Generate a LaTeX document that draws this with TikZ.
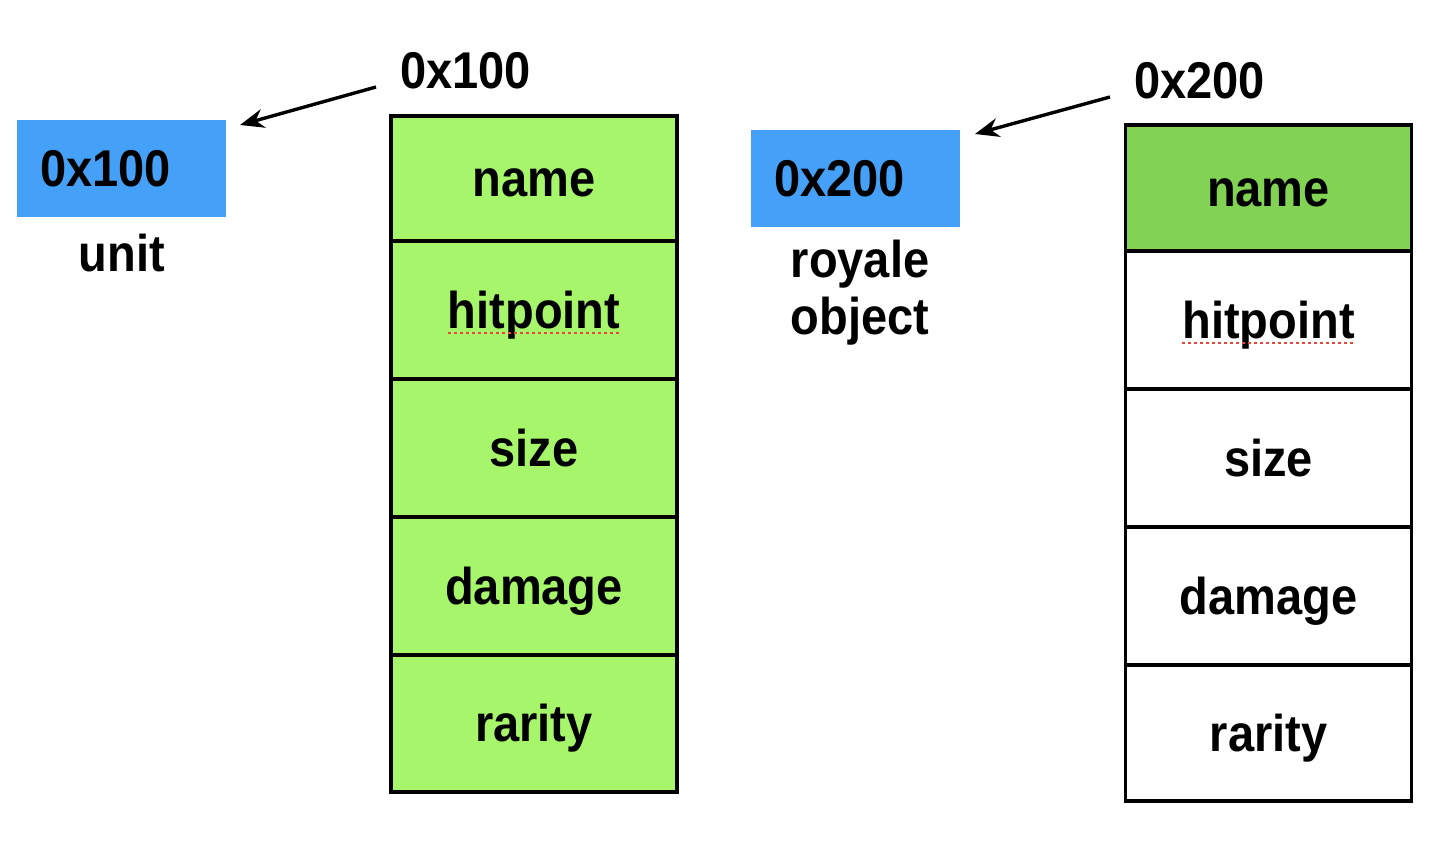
\documentclass[tikz,border=0pt]{standalone}
\usepackage{fontspec}
\setmainfont{Liberation Sans}
\usetikzlibrary{arrows.meta}
\definecolor{addrblue}{HTML}{44A1F7}
\definecolor{lightgreen}{HTML}{A7F56B}
\definecolor{darkgreen}{HTML}{82D354}
\definecolor{spellred}{HTML}{E8463C}
\newcommand{\tallbf}[1]{\scalebox{1}[1.1]{#1}}
\tikzset{
  txt/.style={font=\fontsize{47}{56}\selectfont\bfseries, inner sep=0pt},
  cell/.style={draw=black, line width=3.6pt, minimum width=286pt, inner sep=0pt,
    text height=46pt, text depth=10pt, font=\fontsize{47}{56}\selectfont\bfseries},
  addr/.style={fill=addrblue, minimum width=209pt, minimum height=97pt, inner xsep=23pt, inner ysep=0pt,
    text width=163pt, align=left, text height=46pt, text depth=10pt, font=\fontsize{47}{56}\selectfont\bfseries},
  ptr/.style={line width=3.4pt, -{Stealth[length=24pt,width=19pt]}},
  squiggle/.style={spellred, line width=2.6pt, dash pattern=on 3pt off 3pt}
}
\begin{document}
\begin{tikzpicture}[x=1pt,y=-1pt]
\useasboundingbox (0,0) rectangle (1432,860);
% left side
\node[addr] (box1) at (121.5,168.5) {\tallbf{0x100}};
\node[txt, anchor=base] (unitlbl) at (122,271) {\tallbf{unit}};
\node[txt, anchor=base west] (top1) at (400,88) {\tallbf{0x100}};
\coordinate (a1s) at (376,87);
\coordinate (a1e) at (240,125);
\draw[ptr] (a1s) -- (a1e);
% left table
\node[cell, fill=lightgreen, minimum height=125pt] (l1) at (534,178.5) {\tallbf{name}};
\node[cell, fill=lightgreen, minimum height=138pt] (l2) at (534,310) {\tallbf{hitpoint}};
\node[cell, fill=lightgreen, minimum height=138pt] (l3) at (534,448) {\tallbf{size}};
\node[cell, fill=lightgreen, minimum height=138pt] (l4) at (534,586) {\tallbf{damage}};
\node[cell, fill=lightgreen, minimum height=137pt] (l5) at (534,723.5) {\tallbf{rarity}};
\coordinate (u1a) at (448,333);
\coordinate (u1b) at (621,333);
\draw[squiggle] (u1a) -- (u1b);
% right side
\node[addr] (box2) at (855.5,178.5) {\tallbf{0x200}};
\node[txt, anchor=base] (roylbl) at (860,277) {\tallbf{royale}};
\node[txt, anchor=base] (objlbl) at (860,334) {\tallbf{object}};
\node[txt, anchor=base west] (top2) at (1134,98) {\tallbf{0x200}};
\coordinate (a2s) at (1110,97);
\coordinate (a2e) at (975,134);
\draw[ptr] (a2s) -- (a2e);
% right table
\node[cell, fill=darkgreen, minimum height=126pt] (r1) at (1268.5,188) {\tallbf{name}};
\node[cell, fill=white, minimum height=138pt] (r2) at (1268.5,320) {\tallbf{hitpoint}};
\node[cell, fill=white, minimum height=138pt] (r3) at (1268.5,458) {\tallbf{size}};
\node[cell, fill=white, minimum height=138pt] (r4) at (1268.5,596) {\tallbf{damage}};
\node[cell, fill=white, minimum height=136pt] (r5) at (1268.5,733) {\tallbf{rarity}};
\coordinate (u2a) at (1182,343);
\coordinate (u2b) at (1355,343);
\draw[squiggle] (u2a) -- (u2b);
\end{tikzpicture}
\end{document}
